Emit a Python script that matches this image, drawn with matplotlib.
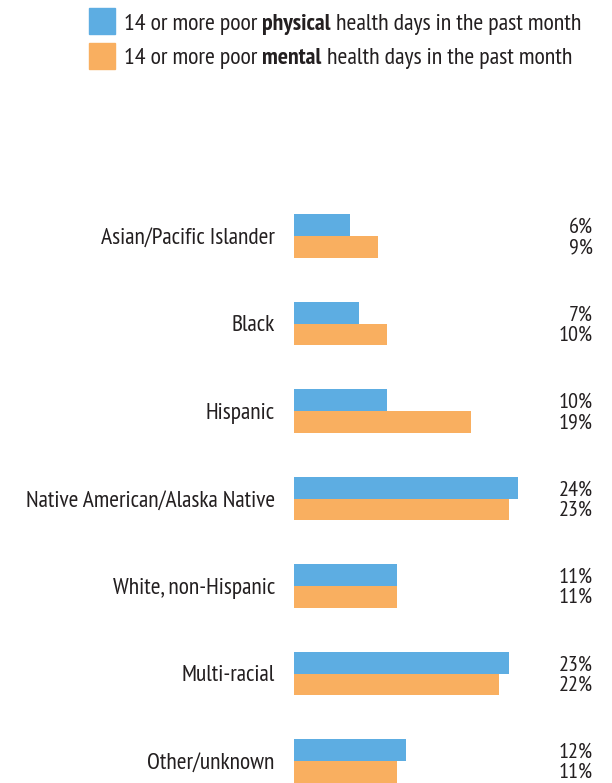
import matplotlib
matplotlib.use("Agg")
import matplotlib.pyplot as plt

groups = ["Asian/Pacific Islander", "Black", "Hispanic", "Native American/Alaska Native",
          "White, non-Hispanic", "Multi-racial", "Other/unknown"]
physical = [6, 7, 10, 24, 11, 23, 12]
mental = [9, 10, 19, 23, 11, 22, 11]

blue = "#5DADE2"
orange = "#F9AF60"
ink = "#231F20"

plt.rcParams["font.family"] = ["PT Sans Narrow", "Roboto Condensed", "DejaVu Sans"]

W, H = 612, 783
fig = plt.figure(figsize=(W / 100, H / 100), dpi=100)
r = fig.canvas.get_renderer()


def fit(s, px, weight="normal"):
    # font size that makes string s about px pixels wide
    t = fig.text(0, 0, s, fontsize=10, fontweight=weight)
    w = t.get_window_extent(r).width
    t.remove()
    return 10 * px / w


cat_fs = fit("Native American/Alaska Native", 251)
val_fs = fit("12%", 34)
leg_fs = fit("14 or more poor physical health days in the past month", 458)

# bar axes: x starts at 294px, 9.33px per percent; rows 87.5px apart
x0, ppu = 294, 9.33
pitch, top = 87.5, 236 - 87.5 / 2
ax = fig.add_axes([x0 / W, 0, (W - x0) / W, (H - top) / H])
ax.set_xlim(0, (W - x0) / ppu)
ax.set_ylim((H - top) / pitch - 0.5, -0.5)
ax.axis("off")

ys = list(range(len(groups)))
ax.barh([y - 0.125 for y in ys], physical, height=0.25, color=blue)
ax.barh([y + 0.125 for y in ys], mental, height=0.25, color=orange)

for y, g, p, m in zip(ys, groups, physical, mental):
    ax.text(-2.05, y + 0.09, g, ha="right", va="baseline", fontsize=cat_fs, color=ink, clip_on=False)
    ax.text(32.0, y - 0.125 + 0.09, f"{p}%", ha="right", va="baseline", fontsize=val_fs, color=ink)
    ax.text(32.0, y + 0.125 + 0.07, f"{m}%", ha="right", va="baseline", fontsize=val_fs, color=ink)

# legend
for i, (c, word) in enumerate([(blue, "physical"), (orange, "mental")]):
    sq = 8 + 35 * i
    fig.patches.append(plt.Rectangle((89 / W, 1 - (sq + 26) / H), 26 / W, 26 / H,
                                     transform=fig.transFigure, color=c))
    x = 124 / W
    base = 30 + 34 * i
    for s, wt in [("14 or more poor ", "normal"), (word, "bold"), (" health days in the past month", "normal")]:
        t = fig.text(x, 1 - base / H, s, fontsize=leg_fs, fontweight=wt, color=ink, va="baseline")
        x += t.get_window_extent(r).width / W

fig.savefig("out.png", dpi=100)
